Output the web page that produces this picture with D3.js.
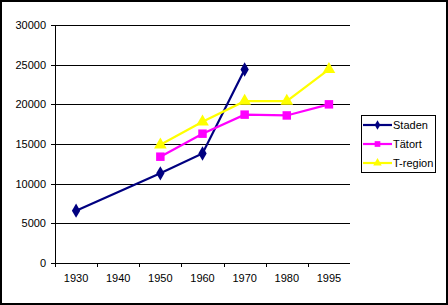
<!DOCTYPE html>
<html>
<head>
<meta charset="utf-8">
<script src="https://cdnjs.cloudflare.com/ajax/libs/d3/7.8.5/d3.min.js"></script>
<style>
  body { margin: 0; background: #fff; }
  svg { display: block; font-family: "Liberation Sans", Arial, sans-serif; }
  .grid line, .axis line, .axis path { shape-rendering: crispEdges; }
</style>
</head>
<body>
<svg id="chart" width="448" height="305"></svg>
<script>
// chart data
var years = ["1930", "1940", "1950", "1960", "1970", "1980", "1995"];
var staden = [6600, null, 11300, 13800, 24400, null, null];
var tatort = [null, null, 13400, 16300, 18700, 18600, 20000];
var tregion = [null, null, 14900, 17800, 20400, 20400, 24400];
var yTicks = [0, 5000, 10000, 15000, 20000, 25000, 30000];

var series = [
  {name: "Staden", values: staden, color: "#000080", marker: d3.symbolDiamond, size: 60},
  {name: "Tätort", values: tatort, color: "#ff00ff", marker: d3.symbolSquare, size: 72},
  {name: "T-region", values: tregion, color: "#ffff00", marker: d3.symbolTriangle, size: 70}
];

var margin = {top: 25, left: 55},
    width = 295,
    height = 238;

var svg = d3.select("#chart");

// outer chart border
svg.append("rect")
  .attr("x", 1).attr("y", 1)
  .attr("width", 446).attr("height", 303)
  .attr("fill", "none")
  .attr("stroke", "#000")
  .attr("stroke-width", 2);

var g = svg.append("g")
  .attr("transform", "translate(" + margin.left + "," + margin.top + ")");

var x = d3.scaleBand().domain(years).range([0, width]).padding(0);
var y = d3.scaleLinear().domain([0, 30000]).range([height, 0]);

// horizontal gridlines
g.append("g")
  .attr("class", "grid")
  .call(d3.axisLeft(y).tickValues(yTicks).tickSize(-width).tickFormat(""))
  .call(function(s) { s.select(".domain").remove(); })
  .selectAll("line").attr("stroke", "#000");

// y axis
var yAxis = g.append("g")
  .attr("class", "axis")
  .call(d3.axisLeft(y).tickValues(yTicks).tickSize(4).tickPadding(5).tickFormat(d3.format("d")));
yAxis.selectAll("text").attr("font-size", 11).attr("fill", "#000")
  .attr("font-family", "Liberation Sans, Arial, sans-serif");
yAxis.select(".domain").attr("d", "M0.5,0V" + height);

// x axis labels
var xAxis = g.append("g")
  .attr("class", "axis")
  .attr("transform", "translate(0," + height + ")")
  .call(d3.axisBottom(x).tickSize(0).tickPadding(11));
xAxis.selectAll("text").attr("font-size", 11).attr("fill", "#000")
  .attr("font-family", "Liberation Sans, Arial, sans-serif");
xAxis.select(".domain").attr("d", "M0," + 0.5 + "H" + width);

// tick marks between categories
xAxis.selectAll(".bound")
  .data(years)
  .enter().append("line")
  .attr("x1", function(d) { return Math.round(x(d)) + 0.5; })
  .attr("x2", function(d) { return Math.round(x(d)) + 0.5; })
  .attr("y1", 0).attr("y2", 4)
  .attr("stroke", "#000");

// lines and markers
var line = d3.line()
  .x(function(d) { return x(d.year) + x.bandwidth() / 2; })
  .y(function(d) { return y(d.value); });

series.forEach(function(s) {
  var pts = years.map(function(yr, i) { return {year: yr, value: s.values[i]}; })
    .filter(function(d) { return d.value != null; });

  g.append("path")
    .datum(pts)
    .attr("fill", "none")
    .attr("stroke", s.color)
    .attr("stroke-width", 2.2)
    .attr("d", line);

  g.selectAll(null)
    .data(pts)
    .enter().append("path")
    .attr("d", d3.symbol().type(s.marker).size(s.size))
    .attr("fill", s.color)
    .attr("transform", function(d) {
      return "translate(" + (x(d.year) + x.bandwidth() / 2) + "," + y(d.value) + ")";
    });
});

// legend
var legend = svg.append("g").attr("transform", "translate(361,115)");
legend.append("rect")
  .attr("x", 0.5).attr("y", 0.5)
  .attr("width", 74).attr("height", 57)
  .attr("fill", "#fff")
  .attr("stroke", "#000");

series.forEach(function(s, i) {
  var ly = 10 + i * 19;
  legend.append("line")
    .attr("x1", 2).attr("x2", 31)
    .attr("y1", ly).attr("y2", ly)
    .attr("stroke", s.color)
    .attr("stroke-width", 2.2);
  legend.append("path")
    .attr("d", d3.symbol().type(s.marker).size(s.size * 0.45))
    .attr("fill", s.color)
    .attr("transform", "translate(16.5," + ly + ")");
  legend.append("text")
    .attr("x", 32).attr("y", ly + 4)
    .attr("font-size", 11)
    .attr("fill", "#000")
    .text(s.name);
});
</script>
</body>
</html>
